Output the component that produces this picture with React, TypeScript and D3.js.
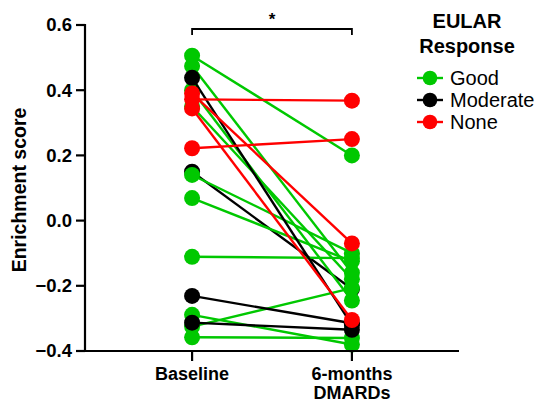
import React from "react";
import * as d3 from "d3";

// EULAR response per subject, paired enrichment scores
const responseGroups = ["Good", "Moderate", "None"];
const groupColors = ["#00c800", "#000000", "#ff0000"];
const timepoints = ["Baseline", "6-months DMARDs"];
const yTicks = [-0.4, -0.2, 0.0, 0.2, 0.4, 0.6];

const subjectResponse = [
  "Moderate",
  "Good", "Good", "Good", "Good", "Good", "Good", "Good", "Good", "Good", "Good",
  "Moderate", "Moderate", "Moderate",
  "None", "None", "None", "None",
];
const baselineScores = [
  0.15,
  0.506, 0.474, 0.4, 0.35, 0.14, 0.069, -0.111, -0.289, -0.325, -0.358,
  0.438, -0.231, -0.313,
  0.39, 0.372, 0.344, 0.222,
];
const followUpScores = [
  -0.21,
  0.2, -0.16, -0.245, -0.18, -0.1, -0.125, -0.115, -0.38, -0.207, -0.36,
  -0.32, -0.315, -0.335,
  -0.07, 0.368, -0.305, 0.25,
];

const W = 540;
const H = 403;
const font = "'Liberation Sans', Arial, sans-serif";

export default function App() {
  const y = d3.scaleLinear().domain([-0.4, 0.6]).range([351, 25]);
  const x = d3.scalePoint().domain(timepoints).range([85, 459]).padding(0.67);
  const color = d3.scaleOrdinal<string, string>().domain(responseGroups).range(groupColors);

  const x0 = x(timepoints[0])!;
  const x1 = x(timepoints[1])!;
  const r = 8;

  const subjects = baselineScores.map((b, i) => ({
    resp: subjectResponse[i],
    b,
    f: followUpScores[i],
  }));

  return (
    <svg
      width={W}
      height={H}
      style={{ position: "absolute", left: 0, top: 0, display: "block", background: "#fff" }}
      fontFamily={font}
    >
      {/* paired lines and points */}
      {subjects.map((s, i) => (
        <g key={i}>
          <line x1={x0} y1={y(s.b)} x2={x1} y2={y(s.f)} stroke={color(s.resp)} strokeWidth={2.4} />
          <circle cx={x0} cy={y(s.b)} r={r} fill={color(s.resp)} />
          <circle cx={x1} cy={y(s.f)} r={r} fill={color(s.resp)} />
        </g>
      ))}

      {/* y axis */}
      <line x1={85} x2={85} y1={y(0.6) - 1} y2={352} stroke="#000" strokeWidth={2.2} />
      {yTicks.map((t) => (
        <g key={t}>
          <line x1={76} x2={85} y1={y(t)} y2={y(t)} stroke="#000" strokeWidth={2.2} />
          <text
            x={72}
            y={y(t)}
            dy="0.35em"
            textAnchor="end"
            fontSize={18.5}
            fontWeight="bold"
          >
            {d3.format(".1f")(t)}
          </text>
        </g>
      ))}
      <text
        transform={`translate(26, ${y(0.1) + 2}) rotate(-90)`}
        textAnchor="middle"
        fontSize={19.5}
        fontWeight="bold"
      >
        Enrichment score
      </text>

      {/* x axis */}
      <line x1={84} x2={459} y1={351} y2={351} stroke="#000" strokeWidth={2.2} />
      {timepoints.map((t) => (
        <line key={t} x1={x(t)} x2={x(t)} y1={351} y2={361} stroke="#000" strokeWidth={2.2} />
      ))}
      <text x={x0} y={380} textAnchor="middle" fontSize={18} fontWeight="bold">
        Baseline
      </text>
      <text x={x1} y={380} textAnchor="middle" fontSize={18} fontWeight="bold">
        6-months
      </text>
      <text x={x1} y={399} textAnchor="middle" fontSize={18} fontWeight="bold">
        DMARDs
      </text>

      {/* significance bracket */}
      <path
        d={`M${x0},35 V29 H${x1} V35`}
        fill="none"
        stroke="#000"
        strokeWidth={1.8}
      />
      <text x={(x0 + x1) / 2} y={25} textAnchor="middle" fontSize={17} fontWeight="bold">
        *
      </text>

      {/* legend */}
      <text x={467} y={28} textAnchor="middle" fontSize={20} fontWeight="bold">
        EULAR
      </text>
      <text x={467} y={53} textAnchor="middle" fontSize={20} fontWeight="bold">
        Response
      </text>
      {responseGroups.map((g, i) => {
        const ly = 78 + i * 22;
        return (
          <g key={g}>
            <line x1={417} x2={443} y1={ly} y2={ly} stroke={color(g)} strokeWidth={2.4} />
            <circle cx={430} cy={ly} r={7.3} fill={color(g)} />
            <text x={450} y={ly} dy="0.35em" fontSize={20}>
              {g}
            </text>
          </g>
        );
      })}
    </svg>
  );
}
